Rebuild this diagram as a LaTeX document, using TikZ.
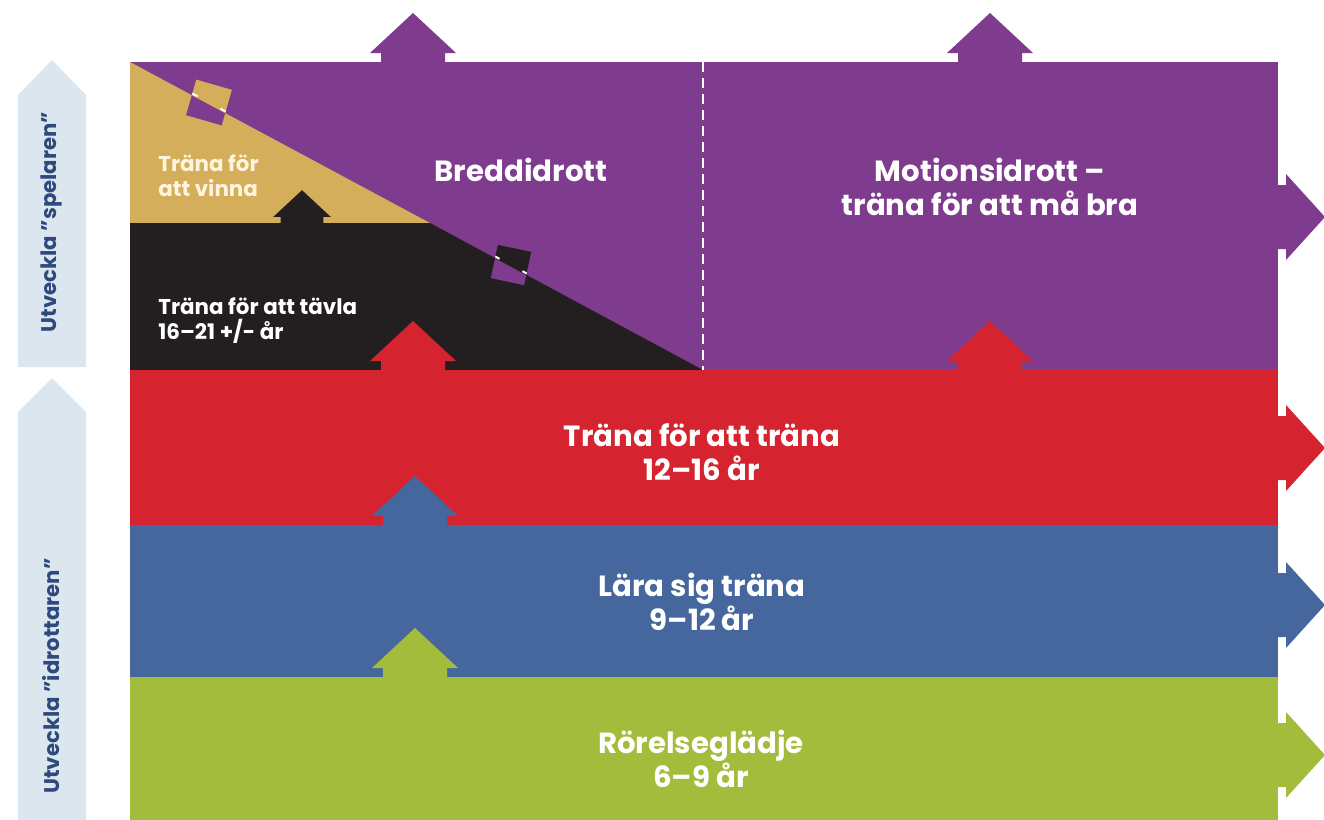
\documentclass[tikz,border=0pt]{standalone}
\usepackage{fontspec}
\setmainfont{Poppins}
\usetikzlibrary{calc}
\definecolor{lila}{HTML}{7F3B8E}
\definecolor{guld}{HTML}{D4AE5A}
\definecolor{svart}{HTML}{231F20}
\definecolor{roed}{HTML}{D5232F}
\definecolor{blaa}{HTML}{46679E}
\definecolor{groen}{HTML}{A3BC3B}
\definecolor{ljus}{HTML}{DCE6EE}
\definecolor{moerk}{HTML}{2E4A7D}
\definecolor{kram}{HTML}{FFF4DE}
\tikzset{
  stor/.style={text=white, font=\bfseries\fontsize{14.6}{17}\selectfont, align=center, inner sep=0pt},
  liten/.style={text=white, font=\bfseries\fontsize{10.7}{12.6}\selectfont, align=left, inner sep=0pt, anchor=west},
  sida/.style={text=moerk, font=\bfseries\fontsize{10.6}{12}\selectfont, rotate=90, inner sep=0pt}
}
% up arrow: colour, x, base y, scale
\newcommand{\uppil}[4]{\begin{scope}[shift={(#2,#3)},scale=#4]
  \fill[#1] (-32,0) -- (-32,-9) -- (-43,-9) -- (0,-49) -- (43,-9) -- (32,-9) -- (32,0) -- cycle;
\end{scope}}
% right arrow: colour, y
\newcommand{\hoegerpil}[2]{\begin{scope}[shift={(1278,#2)}]
  \fill[#1] (0,-32) -- (8,-32) -- (8,-43) -- (47,0) -- (8,43) -- (8,32) -- (0,32) -- cycle;
\end{scope}}
% swapped square on the diagonal: centre x, centre y, colour above, side, angle
\newcommand{\ruta}[5]{\begin{scope}
  \clip[shift={(#1,#2)},rotate=#5] (-#4/2,-#4/2) rectangle (#4/2,#4/2);
  \fill[lila] (#1-40,#2-40) rectangle (#1+40,#2+40);
  \fill[#3] (130,62) -- (703,370) -- (703,0) -- (130,0) -- cycle;
  \draw[white, line width=1pt] ($(#1,#2)+(-40*0.881,-40*0.4735)$) -- ($(#1,#2)+(-13*0.881,-13*0.4735)$);
  \draw[white, line width=1pt] ($(#1,#2)+(13*0.881,13*0.4735)$) -- ($(#1,#2)+(40*0.881,40*0.4735)$);
\end{scope}}
\begin{document}
\begin{tikzpicture}[x=0.5pt,y=-0.5pt]
\useasboundingbox (0,0) rectangle (1324,820);
% side arrows
\fill[ljus] (18,367) -- (18,95) -- (52,60) -- (86,95) -- (86,367) -- cycle;
\fill[ljus] (18,820) -- (18,412) -- (52,378) -- (86,412) -- (86,820) -- cycle;
\node[sida] (spelaren) at (51,222) {Utveckla ”spelaren”};
\node[sida] (idrottaren) at (51,676) {Utveckla ”idrottaren”};
% bands
\fill[lila] (130,62) rectangle (1278,370);
\fill[guld] (130,62) -- (430,223) -- (130,223) -- cycle;
\fill[svart] (130,223) -- (430,223) -- (703,370) -- (130,370) -- cycle;
\draw[white, line width=1pt, dash pattern=on 5pt off 3pt] (703,62) -- (703,370);
\fill[roed] (130,370) rectangle (1278,525);
\fill[blaa] (130,525) rectangle (1278,677);
\fill[groen] (130,677) rectangle (1278,820);
\ruta{209}{102.5}{guld}{37}{-16}
\ruta{511}{265}{svart}{34}{-12}
% arrows
\uppil{lila}{413}{62}{1}
\uppil{lila}{990}{62}{1}
\uppil{svart}{302}{223}{0.67}
\uppil{roed}{413}{370}{1}
\uppil{roed}{990}{370}{1}
\uppil{blaa}{415}{525}{1}
\uppil{groen}{415}{677}{1}
\hoegerpil{lila}{217}
\hoegerpil{roed}{448}
\hoegerpil{blaa}{605}
\hoegerpil{groen}{755}
% texts
\node[liten, text=kram] (vinna) at (158,176) {Träna för\\att vinna};
\node[liten] (taevla) at (158,321) {Träna för att tävla\\16–21 +/- år};
\node[stor] (bredd) at (521,170) {Breddidrott};
\node[stor] (motion) at (990,187) {Motionsidrott –\\träna för att må bra};
\node[stor] (traena) at (702,452) {Träna för att träna\\12–16 år};
\node[stor] (laera) at (702,602) {Lära sig träna\\9–12 år};
\node[stor] (roerelse) at (701,759) {Rörelseglädje\\6–9 år};
\end{tikzpicture}
\end{document}
